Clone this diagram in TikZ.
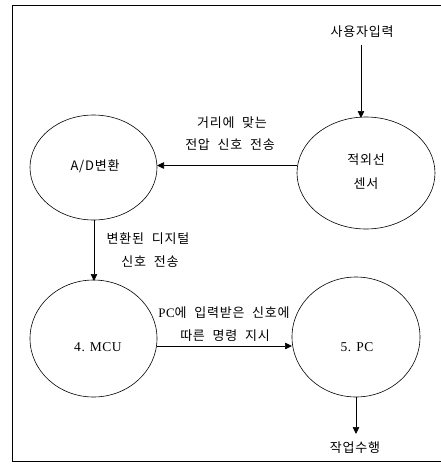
\documentclass[tikz,border=0pt]{standalone}
\usepackage{fontspec}
\setmainfont{Liberation Serif}
\newfontfamily\kr[LetterSpace=6]{Noto Sans CJK KR}
\newfontfamily\lserif[LetterSpace=4]{Liberation Serif}
\usetikzlibrary{arrows.meta,shapes.geometric}
\begin{document}
\begin{tikzpicture}[x=1pt,y=-1pt,
  bub/.style={draw,line width=0.6pt,ellipse,inner sep=0pt},
  lbl/.style={font=\kr\fontsize{13}{15}\selectfont,align=center,inner sep=0pt},
  lat/.style={font=\lserif\fontsize{13.5}{15}\selectfont,inner sep=0pt},
  arr/.style={draw,line width=0.7pt,-{Triangle[length=7pt,width=6.5pt]}}]
\useasboundingbox (0,0) rectangle (441,464);
\draw[line width=0.8pt] (450,5) -- (12.5,5) -- (12.5,461.5) -- (450,461.5);
\node[bub,minimum width=127pt,minimum height=105pt] (ad) at (93.5,167.5) {};
\node[lbl] at (95,166) {A/D변환};
\node[bub,minimum width=138pt,minimum height=112pt] (ir) at (366,173) {};
\node[lbl,font=\kr\fontsize{13}{24}\selectfont] at (366,172) {적외선\\센서};
\node[bub,minimum width=127pt,minimum height=117pt] (mcu) at (93.5,338.5) {};
\node[lat] at (98,347) {4.\hspace{5pt}MCU};
\node[bub,minimum width=128pt,minimum height=120pt] (pc) at (356,337) {};
\node[lat] at (357,347) {5.\hspace{5pt}PC};
\node[lbl] (user) at (362,32) {사용자입력};
\node[lbl] (work) at (355,448) {작업수행};
\coordinate (userend) at (361,45);
\coordinate (irtop) at (361,118);
\draw[arr] (userend) -- (irtop);
\coordinate (irl) at (297,165.5);
\coordinate (adr) at (157,165.5);
\draw[arr] (irl) -- (adr);
\node[lbl] at (232,123) {거리에\hspace{4pt} 맞는};
\node[lbl] at (230,145) {전압\hspace{4pt} 신호\hspace{4pt} 전송};
\coordinate (adb) at (94,220);
\coordinate (mcut) at (94,281);
\draw[arr] (adb) -- (mcut);
\node[lbl] at (148,239) {변환된\hspace{4pt} 디지털};
\node[lbl] at (150,262) {신호\hspace{4pt} 전송};
\coordinate (mcur) at (157,346);
\coordinate (pcl) at (292,346);
\draw[arr] (mcur) -- (pcl);
\node[lbl] at (224,313) {{\lserif PC}에\hspace{4pt} 입력받은\hspace{4pt} 신호에};
\node[lbl] at (225,336) {따른\hspace{4pt} 명령\hspace{4pt} 지시};
\coordinate (pcb) at (356,397);
\coordinate (workt) at (356,434);
\draw[arr] (pcb) -- (workt);
\end{tikzpicture}
\end{document}
